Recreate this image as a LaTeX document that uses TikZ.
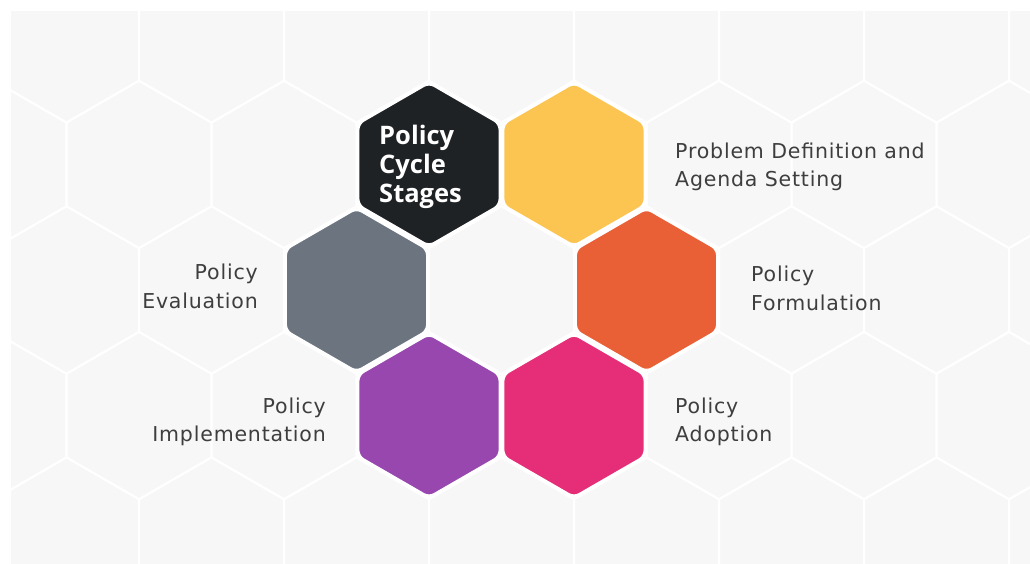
\documentclass[tikz,border=0pt]{standalone}
\usepackage{fontspec}
\setmainfont{Open Sans}
\newfontfamily\labelfont[LetterSpace=4]{DejaVu Sans}
\usetikzlibrary{shapes.geometric}

\definecolor{pagebg}{HTML}{F7F7F7}
\definecolor{labelgray}{HTML}{3E3E3E}
\definecolor{stageblack}{HTML}{1F2225}
\definecolor{stageyellow}{HTML}{FCC551}
\definecolor{stageorange}{HTML}{EA6036}
\definecolor{stagepink}{HTML}{E52E77}
\definecolor{stagepurple}{HTML}{9747AE}
\definecolor{stagegray}{HTML}{6C7480}

\tikzset{
  gridline/.style={draw=white, line width=2pt, line join=miter},
  hexcell/.style={regular polygon, regular polygon sides=6, shape border rotate=30,
    minimum size=164pt, inner sep=0pt, draw=white, line width=3pt,
    rounded corners=6pt},
  stagelabel/.style={text=labelgray, inner sep=0pt,
    font=\labelfont\fontsize{20.5}{28.5}\selectfont},
  titletext/.style={text=white, inner sep=0pt, align=left,
    font=\fontsize{25.5}{29}\selectfont\bfseries},
}

\begin{document}
\begin{tikzpicture}[x=1pt, y=-1pt]
  \useasboundingbox (0,0) rectangle (1030,564);
  \fill[white] (0,0) rectangle (1030,564);
  \fill[pagebg] (11,11) rectangle (1030,564);

  % honeycomb backdrop
  \begin{scope}
    \clip (11,11) rectangle (1030,564);
    \foreach \cy/\ox in {-86.7/139, 38.9/66.5, 164.4/139, 290/66.5, 415.6/139, 541.1/66.5, 666.7/139} {
      \foreach \c in {-1,...,7} {
        \draw[gridline] ({\ox+145*\c},\cy)
          +(90:83.72) -- +(150:83.72) -- +(210:83.72) -- +(270:83.72)
          -- +(330:83.72) -- +(30:83.72) -- cycle;
      }
    }
  \end{scope}

  % stage cells
  \node[hexcell, fill=stageblack]  (core)   at (429,164.4) {};
  \node[hexcell, fill=stageyellow] (agenda) at (574,164.4) {};
  \node[hexcell, fill=stageorange] (formul) at (646.5,290) {};
  \node[hexcell, fill=stagepink]   (adopt)  at (574,415.6) {};
  \node[hexcell, fill=stagepurple] (implem) at (429,415.6) {};
  \node[hexcell, fill=stagegray]   (evalu)  at (356.5,290) {};

  % title inside the dark cell (base anchor sits on the last line)
  \node[titletext, anchor=base west] (title) at (379,202.7) {Policy\\Cycle\\Stages};

  % stage names
  \node[stagelabel, anchor=base west, align=left]  (agendatxt) at (675,186.8) {Problem Definition and\\Agenda Setting};
  \node[stagelabel, anchor=base west, align=left]  (formultxt) at (751,310) {Policy\\Formulation};
  \node[stagelabel, anchor=base west, align=left]  (adopttxt)  at (675,441.5) {Policy\\Adoption};
  \node[stagelabel, anchor=base east, align=right] (evalutxt)  at (258,308.3) {Policy\\Evaluation};
  \node[stagelabel, anchor=base east, align=right] (implemtxt) at (326,441.7) {Policy\\Implementation};
\end{tikzpicture}
\end{document}
